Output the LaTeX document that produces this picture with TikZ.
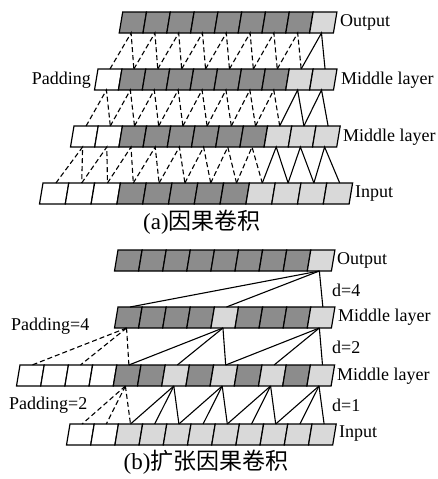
\documentclass[tikz,border=0pt]{standalone}
\usepackage{fontspec}
\setmainfont{Liberation Serif}
\newfontfamily\cjk{Noto Sans CJK SC}
\usepackage{tikz}

\definecolor{cw}{gray}{1}
\definecolor{cd}{gray}{0.55}
\definecolor{cl}{gray}{0.85}
\tikzset{
  cell/.style={draw=black, line width=1.2pt},
  conn/.style={line width=1.1pt},
  pad/.style={line width=1.1pt, dash pattern=on 5pt off 3pt},
  lbl/.style={font=\fontsize{18}{18}\selectfont, inner sep=1pt},
  captxt/.style={font=\fontsize{23}{23}\selectfont, inner sep=1pt}
}
\def\sk{3.5}
% one row of slanted cells, name / left / top / width / fills
\newcommand{\cellrow}[5]{%
  \foreach \c [count=\i from 0] in {#5}{
    \draw[cell, fill=c\c] ({#2+\i*#4},#3) -- ++(#4,0) -- ++(-\sk,21) -- ++(-#4,0) -- cycle;
    \coordinate (#1-\i-t) at ({#2+(\i+0.5)*#4},#3);
    \coordinate (#1-\i-b) at ({#2+(\i+0.5)*#4-\sk},{#3+21});
  }}

\begin{document}
\begin{tikzpicture}[x=1pt,y=-1pt]
  \useasboundingbox (0,0) rectangle (438,479);

  %(a) rows
  \cellrow{ao}{122.7}{12}{23.8}{d,d,d,d,d,d,d,d,l}
  \cellrow{am}{98}{69}{23.9}{w,d,d,d,d,d,d,d,l,l}
  \cellrow{an}{74}{126}{24.2}{w,w,d,d,d,d,d,d,l,l,l}
  \cellrow{ai}{43}{183}{25.8}{w,w,w,d,d,d,d,d,l,l,l,l}

  %(a) links
  \foreach \j [count=\k from 1] in {0,...,7} \draw[pad] (am-\j-t) -- (ao-\j-b) -- (am-\k-t);
  \draw[conn] (am-8-t) -- (ao-8-b) -- (am-9-t);
  \foreach \j [count=\k from 1] in {0,...,7} \draw[pad] (an-\j-t) -- (am-\j-b) -- (an-\k-t);
  \foreach \j [count=\k from 9] in {8,9} \draw[conn] (an-\j-t) -- (am-\j-b) -- (an-\k-t);
  \foreach \j [count=\k from 1] in {0,...,7} \draw[pad] (ai-\j-t) -- (an-\j-b) -- (ai-\k-t);
  \foreach \j [count=\k from 9] in {8,9,10} \draw[conn] (ai-\j-t) -- (an-\j-b) -- (ai-\k-t);

  %(a) labels
  \node[lbl, anchor=west] (ao-txt) at (339,22) {Output};
  \node[lbl, anchor=west] (am-txt) at (340,80) {Middle layer};
  \node[lbl, anchor=east] (am-pad) at (92,80) {Padding};
  \node[lbl, anchor=west] (an-txt) at (342,137) {Middle layer};
  \node[lbl, anchor=west] (ai-txt) at (354,194) {Input};
  \node[captxt] (cap-a) at (202,222) {(a){\cjk 因果卷积}};

  %(b) rows
  \cellrow{bo}{118}{250}{24.1}{d,d,d,d,d,d,d,d,l}
  \cellrow{bm}{118}{307}{24.1}{d,d,d,d,l,d,d,d,l}
  \cellrow{bn}{20}{365}{24.2}{w,w,w,w,d,d,l,d,l,d,l,d,l}
  \cellrow{bi}{70}{424}{24.2}{w,w,l,l,l,l,l,l,l,l,l}

  %(b) links
  \foreach \j in {0,4,8} \draw[conn] (bo-8-b) -- (bm-\j-t);
  \foreach \j in {0,2,4} \draw[pad] (bm-0-b) -- (bn-\j-t);
  \foreach \j in {4,8} \foreach \d in {0,2,4} {
    \pgfmathtruncatemacro\n{\j+\d}
    \draw[conn] (bm-\j-b) -- (bn-\n-t);
  }
  \foreach \d in {0,1,2} \draw[pad] (bn-4-b) -- (bi-\d-t);
  \foreach \j in {6,8,10,12} \foreach \d in {4,3,2} {
    \pgfmathtruncatemacro\n{\j-\d}
    \draw[conn] (bn-\j-b) -- (bi-\n-t);
  }

  %(b) labels
  \node[lbl, anchor=west] (bo-txt) at (336,260) {Output};
  \node[lbl, anchor=west] (d4) at (331,290) {d=4};
  \node[lbl, anchor=west] (bm-txt) at (337,317) {Middle layer};
  \node[lbl, anchor=west] (bm-pad) at (10,326) {Padding=4};
  \node[lbl, anchor=west] (d2) at (331,347) {d=2};
  \node[lbl, anchor=west] (bn-txt) at (336,376) {Middle layer};
  \node[lbl, anchor=west] (d1) at (331,405) {d=1};
  \node[lbl, anchor=west] (bn-pad) at (8,405) {Padding=2};
  \node[lbl, anchor=west] (bi-txt) at (338,434) {Input};
  \node[captxt] (cap-b) at (206,462) {(b){\cjk 扩张因果卷积}};
\end{tikzpicture}
\end{document}
